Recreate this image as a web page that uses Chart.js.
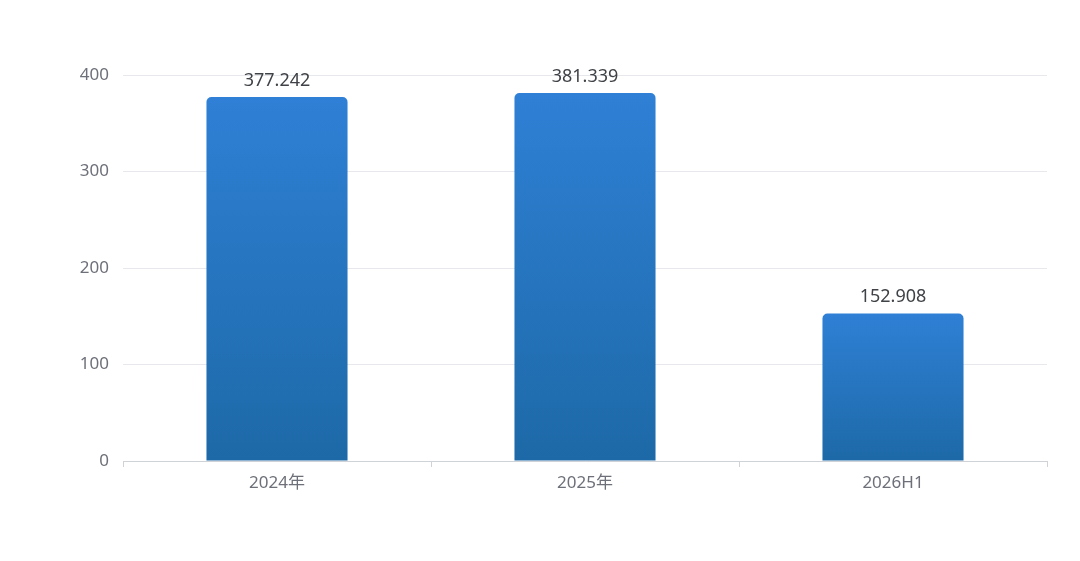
<!DOCTYPE html>
<html>
<head>
<meta charset="utf-8">
<script src="https://cdn.jsdelivr.net/npm/chart.js@4"></script>
<style>
  html, body { margin: 0; padding: 0; background: #fff; }
  #wrap { width: 1080px; height: 561px; }
</style>
</head>
<body>
<div id="wrap"><canvas id="barChart"></canvas></div>
<script>
// data
const categories = ["2024年", "2025年", "2026H1"];
const values = [377.242, 381.339, 152.908];
const yTicks = [0, 100, 200, 300, 400];

const FONT = '"Noto Sans", "Noto Sans CJK SC", sans-serif';

// each bar gets its own top-to-bottom gradient
function barGradient(context) {
  const chart = context.chart;
  const yScale = chart.scales.y;
  if (!yScale || context.raw == null) return "#2a78c8";
  const top = yScale.getPixelForValue(context.raw);
  const bottom = yScale.getPixelForValue(0);
  if (!isFinite(top) || !isFinite(bottom) || top === bottom) return "#2a78c8";
  const g = chart.ctx.createLinearGradient(0, top, 0, bottom);
  g.addColorStop(0, "#2f80d6");
  g.addColorStop(1, "#1d69a7");
  return g;
}

// value labels above the bars
const valueLabels = {
  id: "valueLabels",
  afterDatasetsDraw(chart) {
    const ctx = chart.ctx;
    const meta = chart.getDatasetMeta(0);
    ctx.save();
    ctx.font = "18px " + FONT;
    ctx.fillStyle = "#3f4246";
    ctx.textAlign = "center";
    ctx.textBaseline = "alphabetic";
    meta.data.forEach((bar, i) => {
      ctx.fillText(values[i].toFixed(3), bar.x, bar.y - 11);
    });
    ctx.restore();
  },
};

new Chart(document.getElementById("barChart").getContext("2d"), {
  type: "bar",
  data: {
    labels: categories,
    datasets: [
      {
        data: values,
        backgroundColor: barGradient,
        borderRadius: { topLeft: 5, topRight: 5 },
        borderSkipped: "bottom",
        barPercentage: 0.458,
        categoryPercentage: 1,
      },
    ],
  },
  options: {
    responsive: true,
    maintainAspectRatio: false,
    animation: false,
    layout: { padding: { top: 75, right: 33, left: 0, bottom: 0 } },
    scales: {
      x: {
        afterFit(scale) { scale.height = 100; },
        grid: {
          display: true,
          offset: true,
          drawOnChartArea: false,
          drawTicks: true,
          tickLength: 6,
          color: "#cfd2d6",
        },
        border: { display: true, color: "#cfd2d6" },
        ticks: {
          color: "#6e7079",
          font: { family: FONT, size: 17 },
          padding: 6,
        },
      },
      y: {
        min: 0,
        max: 400,
        afterFit(scale) { scale.width = 123; },
        afterBuildTicks(scale) { scale.ticks = yTicks.map((v) => ({ value: v })); },
        grid: { color: "#e6e8ec", drawTicks: false },
        border: { display: false },
        ticks: {
          color: "#6e7079",
          font: { family: FONT, size: 17 },
          padding: 14,
        },
      },
    },
    plugins: {
      legend: { display: false },
      tooltip: { enabled: false },
    },
  },
  plugins: [valueLabels],
});
</script>
</body>
</html>
